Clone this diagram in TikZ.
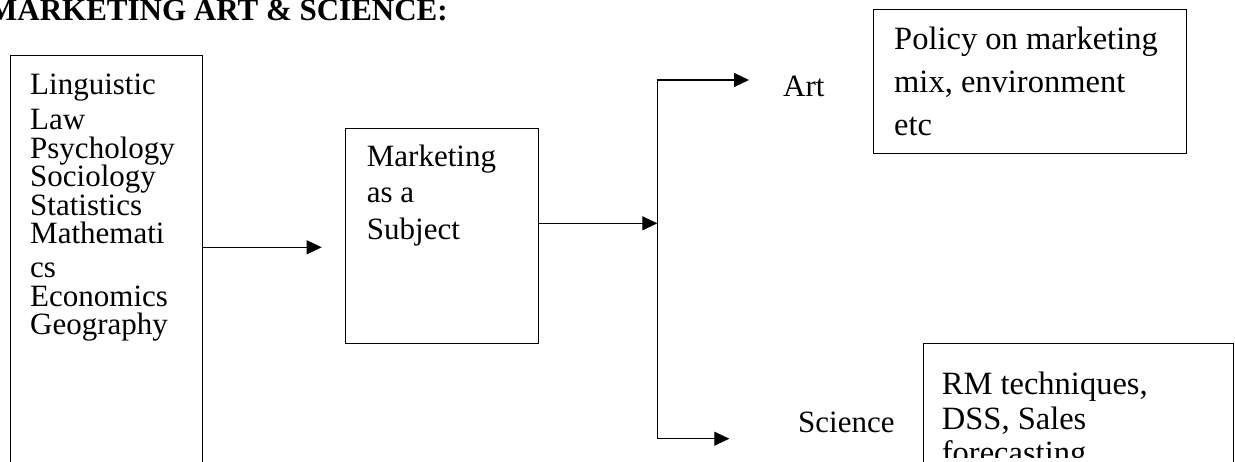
\documentclass[tikz,border=0pt]{standalone}
\usepackage{fontspec}
\setmainfont{Liberation Serif}
\usetikzlibrary{arrows.meta,calc}
\begin{document}
\begin{tikzpicture}[x=1pt,y=-1pt,
  box/.style={draw,line width=1.1pt,inner sep=0pt,anchor=north west},
  txt/.style={anchor=base west,inner sep=0pt,font=\fontsize{31}{31}\selectfont},
  bigtxt/.style={txt,font=\fontsize{32.5}{32.5}\selectfont},
  link/.style={line width=1.1pt,-{Triangle[length=15pt,width=14pt]}}]
\useasboundingbox (0,0) rectangle (1235,462);
\clip (0,0) rectangle (1235,462);

% heading
\node[anchor=base east,inner sep=0pt,font=\fontsize{31}{31}\selectfont\bfseries]
  (title) at (448,21) {MARKETING ART \& SCIENCE:};

% boxes
\node[box,minimum width=192pt,minimum height=430pt] (disc) at (9.5,55) {};
\node[box,minimum width=193pt,minimum height=215pt] (subj) at (345,128.3) {};
\node[box,minimum width=313pt,minimum height=143.7pt] (art box) at (873,9.3) {};
\node[box,minimum width=310pt,minimum height=150pt] (sci box) at (922.7,342.7) {};

% contributing disciplines
\foreach \t/\y [count=\i] in {Linguistic/95,Law/130,Psychology/158.5,Sociology/187,
    Statistics/215.5,Mathemati/244,cs/278,Economics/306.5,Geography/335}
  \node[txt] (d\i) at (30,\y) {\t};

% central subject
\node[txt] (s1) at (366.7,166.7) {Marketing};
\node[txt] (s2) at (366.7,203) {as a};
\node[txt] (s3) at (366.7,240) {Subject};

% branch labels
\node[txt] (art) at (783,97) {Art};
\node[txt] (sci) at (798,432) {Science};

% art details
\node[bigtxt] (p1) at (894,50) {Policy on marketing};
\node[bigtxt] (p2) at (894,93) {mix, environment};
\node[bigtxt] (p3) at (894,136) {etc};

% science details (last line cut by the frame)
\node[bigtxt] (r1) at (941.7,395) {RM techniques,};
\node[bigtxt] (r2) at (941.7,429) {DSS, Sales};
\begin{scope}
  \clip (900,300) rectangle (1235,457);
  \node[bigtxt] (r3) at (941.7,463) {forecasting};
\end{scope}

% connectors
\coordinate (inTip) at (321.7,247.3);
\coordinate (discOut) at (disc.east |- inTip);
\draw[link] (discOut) -- (inTip);

\coordinate (fork) at (657.3,223.3);
\coordinate (subjOut) at (subj.east |- fork);
\draw[link] (subjOut) -- (fork);

\coordinate (artTip) at (749,80);
\coordinate (sciTip) at (729.3,438.7);
\draw[link] (fork) |- (artTip);
\draw[link] (fork) |- (sciTip);
\end{tikzpicture}
\end{document}
